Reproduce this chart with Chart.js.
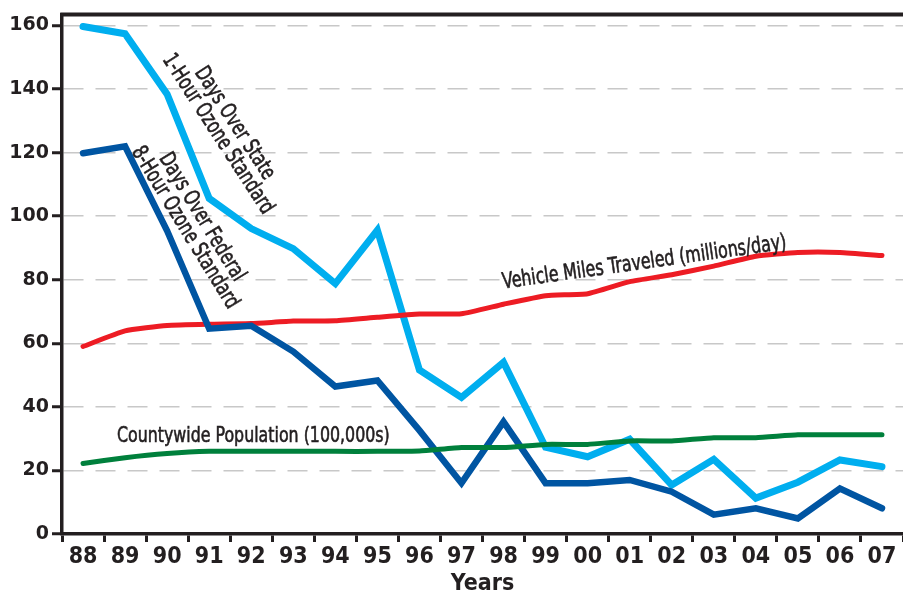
<!DOCTYPE html>
<html>
<head>
<meta charset="utf-8">
<script src="https://cdn.jsdelivr.net/npm/chart.js@4"></script>
<style>
  html, body { margin: 0; padding: 0; background: #fff; }
  #wrap { width: 903px; height: 600px; position: relative; }
</style>
</head>
<body>
<div id="wrap"><canvas id="c" width="903" height="600"></canvas></div>
<script>
// ---- data ----
const years = ['88','89','90','91','92','93','94','95','96','97','98','99','00','01','02','03','04','05','06','07'];
const stateOneHour = [159.7, 157.4, 138.4, 105.6, 96.1, 89.8, 78.8, 95.6, 51.6, 43.0, 54.0, 27.3, 24.3, 29.8, 15.4, 23.5, 11.3, 16.3, 23.3, 21.2];
const federalEightHour = [119.8, 122.0, 95.4, 64.6, 65.5, 57.4, 46.4, 48.3, 32.6, 16.0, 35.3, 16.0, 16.0, 17.0, 13.3, 6.1, 8.1, 4.9, 14.3, 8.1];
const vehicleMiles = [59.0, 63.9, 65.6, 66.0, 66.2, 67.0, 67.1, 68.2, 69.2, 69.3, 72.3, 75.0, 75.6, 79.4, 81.6, 84.3, 87.4, 88.6, 88.6, 87.6];
const population = [22.2, 24.0, 25.3, 26.0, 26.0, 26.0, 26.0, 26.0, 26.1, 27.2, 27.2, 28.2, 28.2, 29.3, 29.3, 30.3, 30.3, 31.2, 31.2, 31.2];
const yTickValues = [0, 20, 40, 60, 80, 100, 120, 140, 160];
const xTitle = 'Years';

// in-chart labels: text lines, anchor (category index, value), rotation in degrees
const annotations = [
  { lines: ['Days Over State', '1-Hour Ozone Standard'], x: 3.4, y: 127.5, rot: 57 },
  { lines: ['Days Over Federal', '8-Hour Ozone Standard'], x: 2.62, y: 98, rot: 58.5 },
  { lines: ['Vehicle Miles Traveled (millions/day)'], x: 13.35, y: 85.3, rot: -8 },
  { lines: ['Countywide Population (100,000s)'], x: 4.05, y: 30.8, rot: 0 }
];

const DARK = '#231f20';
const NARROW = "'Liberation Sans Narrow', 'DejaVu Sans Condensed', 'Arial Narrow', sans-serif";

const decorPlugin = {
  id: 'decor',
  afterDatasetsDraw(chart) {
    const ctx = chart.ctx;
    const xs = chart.scales.x, ys = chart.scales.y;
    const area = chart.chartArea;
    // top frame line
    ctx.save();
    ctx.strokeStyle = DARK;
    ctx.lineWidth = 4;
    ctx.beginPath();
    ctx.moveTo(area.left - 1.75, area.top);
    ctx.lineTo(chart.width, area.top);
    ctx.stroke();
    ctx.restore();

    // annotations
    annotations.forEach(a => {
      const x0 = xs.getPixelForValue(0), x1 = xs.getPixelForValue(1);
      const cx = x0 + (x1 - x0) * a.x;
      const cy = ys.getPixelForValue(a.y);
      ctx.save();
      ctx.translate(cx, cy);
      ctx.rotate(a.rot * Math.PI / 180);
      ctx.scale(0.8, 1);
      ctx.fillStyle = DARK;
      ctx.strokeStyle = DARK;
      ctx.lineWidth = 0.6;
      ctx.font = "22px 'DejaVu Sans Condensed', 'DejaVu Sans', sans-serif";
      ctx.textAlign = 'center';
      ctx.textBaseline = 'middle';
      const lh = 20;
      const n = a.lines.length;
      a.lines.forEach((t, i) => {
        const ty = (i - (n - 1) / 2) * lh;
        ctx.fillText(t, 0, ty);
        ctx.strokeText(t, 0, ty);
      });
      ctx.restore();
    });
  }
};

new Chart(document.getElementById('c'), {
  type: 'line',
  data: {
    labels: years,
    datasets: [
      { label: 'Days Over State 1-Hour Ozone Standard', data: stateOneHour, borderColor: '#00aeef', borderWidth: 7, order: 3 },
      { label: 'Days Over Federal 8-Hour Ozone Standard', data: federalEightHour, borderColor: '#0055a2', borderWidth: 6.5, order: 1 },
      { label: 'Vehicle Miles Traveled (millions/day)', data: vehicleMiles, borderColor: '#ed1c24', borderWidth: 5, tension: 0.15, order: 2 },
      { label: 'Countywide Population (100,000s)', data: population, borderColor: '#00803c', borderWidth: 5, tension: 0.15, order: 0 }
    ]
  },
  options: {
    responsive: false,
    animation: false,
    layout: { padding: { top: 14, right: -5, left: 0, bottom: 0 } },
    elements: {
      point: { radius: 0, hoverRadius: 0 },
      line: { borderCapStyle: 'round', borderJoinStyle: 'miter', fill: false }
    },
    plugins: { legend: { display: false }, tooltip: { enabled: false } },
    scales: {
      x: {
        offset: true,
        grid: { offset: true, drawOnChartArea: false, drawTicks: true, tickLength: 8, tickColor: DARK, tickWidth: 3 },
        border: { display: true, color: DARK, width: 3.5 },
        ticks: { color: DARK, font: { family: NARROW, size: 23, weight: 'bold' }, padding: 1, maxRotation: 0, autoSkip: false },
        title: { display: true, text: xTitle, color: DARK, font: { family: NARROW, size: 23, weight: 'bold' }, padding: { top: 0, bottom: 2 } },
        afterFit(scale) { scale.height = 66; }
      },
      y: {
        min: 0,
        max: 163.5,
        afterBuildTicks(scale) { scale.ticks = yTickValues.map(v => ({ value: v })); },
        grid: { color: '#c8c8c8', lineWidth: 1.5, drawTicks: true, tickLength: 10, tickColor: DARK, tickWidth: 3, tickBorderDash: [] },
        border: { display: true, color: DARK, width: 3.5, dash: [20, 12] },
        ticks: { color: DARK, font: { family: "'DejaVu Sans', sans-serif", size: 19, weight: 'bold' }, padding: 3 },
        afterFit(scale) { scale.width = 62; }
      }
    }
  },
  plugins: [decorPlugin]
});
</script>
</body>
</html>
